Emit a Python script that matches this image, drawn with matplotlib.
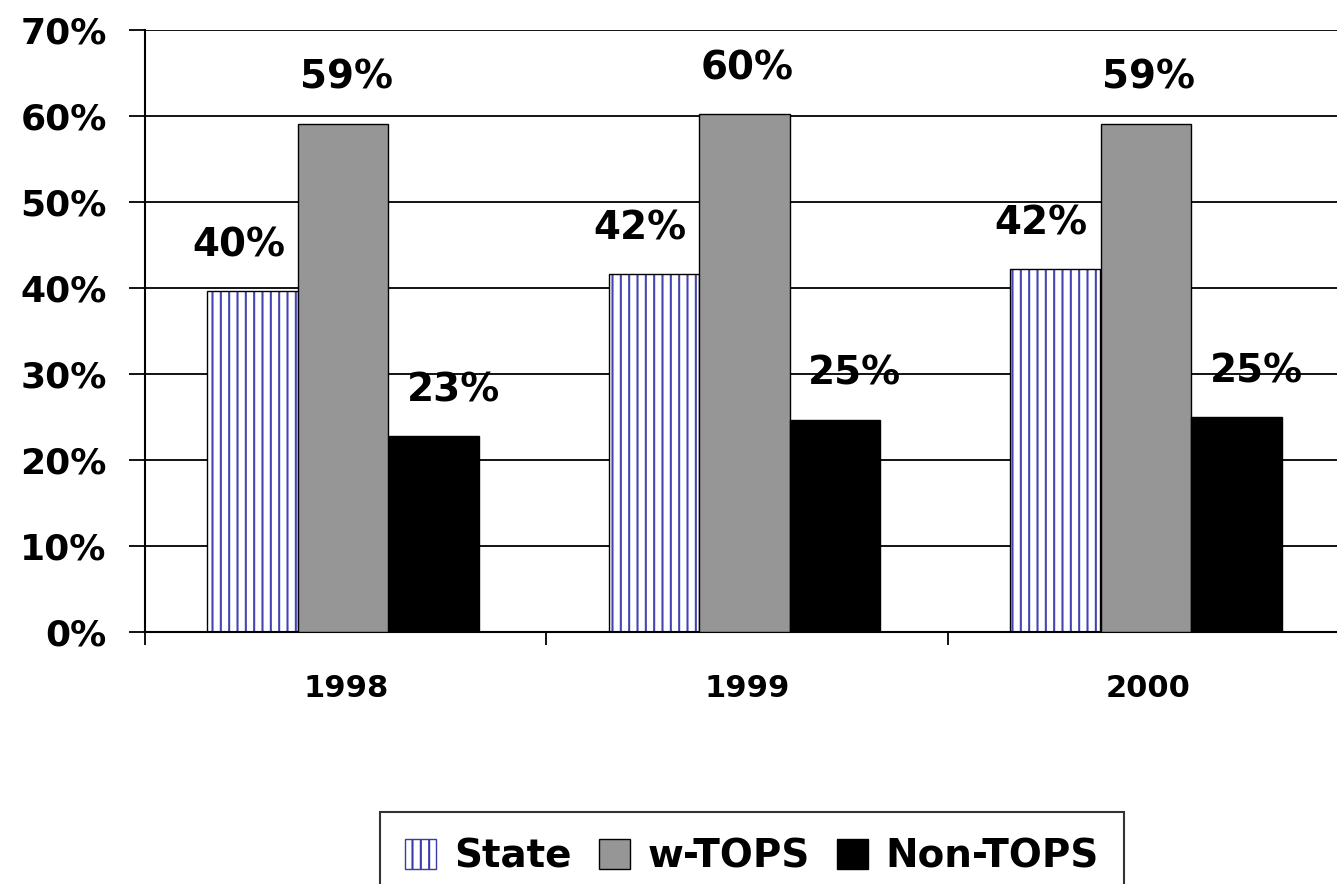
import matplotlib
matplotlib.use("Agg")
import matplotlib.pyplot as plt
import numpy as np
from matplotlib.patches import Patch

years = ["1998", "1999", "2000"]
series_names = ["State", "w-TOPS", "Non-TOPS"]
state = [39.6, 41.6, 42.2]
w_tops = [59.1, 60.2, 59.1]
non_tops = [22.8, 24.7, 25.0]
y_ticks = [0, 10, 20, 30, 40, 50, 60, 70]

plt.rcParams['font.family'] = ['DejaVu Sans']
plt.rcParams['font.weight'] = 'bold'
plt.rcParams['hatch.linewidth'] = 1.5

fig = plt.figure(figsize=(13.37, 8.84), dpi=100)
ax = fig.add_axes([145 / 1337, 252 / 884, 1204 / 1337, 602 / 884])

x = np.arange(len(years))
width = 0.225
offsets = [-0.232, -0.006, 0.22]
label_dx = [-10, 2, 14]  # points, Excel-ish label placement

# gridlines first
ax.set_axisbelow(True)
ax.yaxis.grid(True, color="black", linewidth=1.3)

# State: blue vertical hatch on white, black outline drawn on top
ax.bar(x + offsets[0], state, width, color="white", edgecolor="#4444b0",
       hatch="||", linewidth=0, zorder=2)
ax.bar(x + offsets[0], state, width, fill=False, edgecolor="black",
       linewidth=1.0, zorder=3)
ax.bar(x + offsets[1], w_tops, width, color="#969696", edgecolor="black",
       linewidth=1.0, zorder=3)
ax.bar(x + offsets[2], non_tops, width, color="black", edgecolor="black",
       linewidth=1.0, zorder=3)

for k, vals in enumerate([state, w_tops, non_tops]):
    for i, v in enumerate(vals):
        ax.annotate(f"{int(v + 0.5)}%", (x[i] + offsets[k], v),
                    xytext=(label_dx[k], 33), textcoords="offset points",
                    ha="center", va="center", fontsize=28, fontweight="bold",
                    zorder=4)

ax.set_xlim(-0.5, 2.5)
ax.set_ylim(0, 70)
ax.set_yticks(y_ticks)
ax.set_yticklabels([f"{t}%" for t in y_ticks])
ax.tick_params(axis="y", direction="out", length=11.5, width=1.3,
               labelsize=26, pad=16)

ax.set_xticks(x)
ax.set_xticklabels(years)
ax.set_xticks(np.arange(-0.5, 3.0, 1.0), minor=True)
ax.tick_params(axis="x", which="major", length=0, labelsize=22, pad=30)
ax.tick_params(axis="x", which="minor", direction="out", length=9, width=1.3)

for s in ["top", "right"]:
    ax.spines[s].set_visible(False)
for s in ["left", "bottom"]:
    ax.spines[s].set_linewidth(1.5)

handles = [
    Patch(facecolor="white", edgecolor="#3a3aa8", hatch="||", linewidth=1.0),
    Patch(facecolor="#969696", edgecolor="black", linewidth=1.0),
    Patch(facecolor="black", edgecolor="black", linewidth=1.0),
]
leg = fig.legend(handles, series_names, loc="upper center",
                 bbox_to_anchor=(752 / 1337, 1 - 812 / 884), ncol=3,
                 fontsize=28, frameon=True, fancybox=False, edgecolor="black",
                 handlelength=0.8, handleheight=0.8, handletextpad=0.45,
                 columnspacing=0.7, borderpad=0.65, borderaxespad=0)
leg.get_frame().set_linewidth(1.5)
for t in leg.get_texts():
    t.set_fontweight("bold")

fig.savefig("out.png", dpi=100)
